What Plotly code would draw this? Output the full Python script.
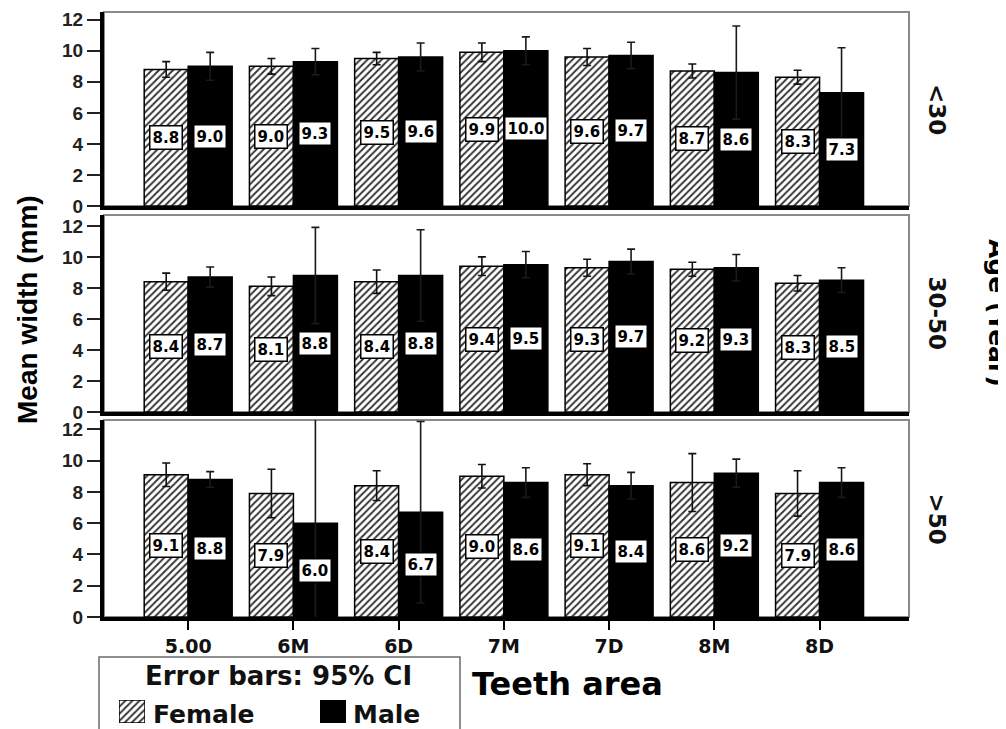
import plotly.graph_objects as go

# ---------------- data ----------------
categories = ["5.00", "6M", "6D", "7M", "7D", "8M", "8D"]
age_groups = ["<30", "30-50", ">50"]

female_lt30 = [8.8, 9.0, 9.5, 9.9, 9.6, 8.7, 8.3]
male_lt30 = [9.0, 9.3, 9.6, 10.0, 9.7, 8.6, 7.3]
female_30_50 = [8.4, 8.1, 8.4, 9.4, 9.3, 9.2, 8.3]
male_30_50 = [8.7, 8.8, 8.8, 9.5, 9.7, 9.3, 8.5]
female_gt50 = [9.1, 7.9, 8.4, 9.0, 9.1, 8.6, 7.9]
male_gt50 = [8.8, 6.0, 6.7, 8.6, 8.4, 9.2, 8.6]

# 95% CI half-widths
female_lt30_ci = [0.5, 0.5, 0.4, 0.6, 0.55, 0.45, 0.45]
male_lt30_ci = [0.9, 0.85, 0.9, 0.9, 0.85, 3.0, 2.9]
female_30_50_ci = [0.55, 0.6, 0.75, 0.6, 0.55, 0.45, 0.5]
male_30_50_ci = [0.65, 3.1, 2.95, 0.85, 0.8, 0.85, 0.8]
female_gt50_ci = [0.75, 1.55, 0.95, 0.75, 0.7, 1.85, 1.45]
male_gt50_ci = [0.5, 7.5, 5.8, 0.95, 0.85, 0.9, 0.95]

y_ticks = [0, 2, 4, 6, 8, 10, 12]

# ---------------- layout helpers ----------------
W, H = 1006, 729
OFF = 8  # page body margin shifts the figure by 8 px
def px(p):
    return (p - OFF) / W
def py(p):
    return 1 - (p - OFF) / H

BOLD = "DejaVu Sans"
FEMALE_MARKER = dict(color="white",
                     pattern=dict(shape="/", fgcolor="#333333", bgcolor="white", size=5, solidity=0.38),
                     line=dict(color="black", width=1.5))
MALE_MARKER = dict(color="black", line=dict(color="black", width=1.5))

panels = [
    (female_lt30, female_lt30_ci, male_lt30, male_lt30_ci, age_groups[0], [0, 12.5], (12, 206)),
    (female_30_50, female_30_50_ci, male_30_50, male_30_50_ci, age_groups[1], [0, 12.7], (215, 412)),
    (female_gt50, female_gt50_ci, male_gt50, male_gt50_ci, age_groups[2], [0, 12.6], (420, 617)),
]

fig = go.Figure()
layout = dict(
    width=W, height=H, margin=dict(l=0, r=0, t=0, b=0),
    paper_bgcolor="white", plot_bgcolor="white",
    barmode="group", bargap=0.164, bargroupgap=0,
    showlegend=False, template="none",
)
annotations = []
shapes = []
half = (1 - 0.164) / 4  # offset of each bar center from category center

for k, (fv, fci, mv, mci, label, yr, (top, bottom)) in enumerate(panels, start=1):
    xa = "x" if k == 1 else f"x{k}"
    ya = "y" if k == 1 else f"y{k}"
    fig.add_trace(go.Bar(
        x=categories, y=fv, name="Female", offsetgroup="F", marker=FEMALE_MARKER,
        error_y=dict(type="data", array=fci, visible=True, color="#111111", thickness=1.6, width=4),
        xaxis=xa, yaxis=ya))
    fig.add_trace(go.Bar(
        x=categories, y=mv, name="Male", offsetgroup="M", marker=MALE_MARKER,
        error_y=dict(type="data", array=mci, visible=True, color="#1a1a1a", thickness=1.6, width=4),
        xaxis=xa, yaxis=ya))
    is_bottom = (k == 3)
    layout["xaxis" if k == 1 else f"xaxis{k}"] = dict(
        domain=[px(104), px(909)], anchor=ya, type="category",
        categoryorder="array", categoryarray=categories,
        range=[-0.8, 6.85], showgrid=False, zeroline=False,
        showline=True, linewidth=4, linecolor="black", automargin=False,
        ticks="outside" if is_bottom else "", ticklen=9, tickwidth=2, tickcolor="black",
        showticklabels=is_bottom,
        tickfont=dict(family=BOLD, size=19, color="#111111", weight="bold"),
    )
    layout["yaxis" if k == 1 else f"yaxis{k}"] = dict(
        domain=[py(bottom), py(top)], anchor=xa, range=yr,
        tickvals=y_ticks, showgrid=False, zeroline=False,
        showline=True, linewidth=4, linecolor="black", automargin=False,
        ticks="outside", ticklen=13, tickwidth=2, tickcolor="#222222",
        tickfont=dict(family="Liberation Sans, Arial", size=19, color="#222222", weight="bold"),
    )
    # panel frame (thin gray top/right border)
    shapes.append(dict(type="rect", xref=f"{xa} domain", yref=f"{ya} domain",
                       x0=0, x1=1, y0=0, y1=1, line=dict(color="#8a8a8a", width=2), layer="below"))
    # value labels
    for i, (f, m) in enumerate(zip(fv, mv)):
        for val, off in ((f, -half), (m, half)):
            annotations.append(dict(
                x=i + off, y=val / 2, xref=xa, yref=ya, text=f"{val:.1f}", showarrow=False,
                bgcolor="white", bordercolor="black", borderwidth=1.5, borderpad=2,
                font=dict(family=BOLD, size=15, color="black", weight="bold")))
    # age-group label on right
    annotations.append(dict(
        x=px(937), y=py((top + bottom) / 2), xref="paper", yref="paper", text=label,
        textangle=90, showarrow=False, xanchor="center", yanchor="middle",
        font=dict(family=BOLD, size=23, color="#111111", weight="bold")))

# axis titles
annotations.append(dict(
    x=px(27), y=py(310), xref="paper", yref="paper", text="Mean width (mm)", textangle=-90,
    showarrow=False, xanchor="center", yanchor="middle",
    font=dict(family="Liberation Sans, Arial", size=28, color="black", weight="bold")))
annotations.append(dict(
    x=px(998), y=py(313), xref="paper", yref="paper", text="Age (Year)", textangle=90,
    showarrow=False, xanchor="center", yanchor="middle",
    font=dict(family=BOLD, size=25, color="black", weight="bold")))
annotations.append(dict(
    x=px(470), y=py(684), xref="paper", yref="paper", text="Teeth area",
    showarrow=False, xanchor="left", yanchor="middle",
    font=dict(family=BOLD, size=32, color="black", weight="bold")))

# legend box
shapes.append(dict(type="rect", xref="paper", yref="paper",
                   x0=px(99), x1=px(460), y0=py(750), y1=py(657),
                   line=dict(color="#6a6a6a", width=1.5), fillcolor="white", layer="below"))
annotations.append(dict(
    x=px(278), y=py(676), xref="paper", yref="paper", text="Error bars: 95% CI",
    showarrow=False, xanchor="center", yanchor="middle",
    font=dict(family=BOLD, size=26, color="#111111", weight="bold")))
annotations.append(dict(
    x=px(151), y=py(714), xref="paper", yref="paper", text="Female",
    showarrow=False, xanchor="left", yanchor="middle",
    font=dict(family=BOLD, size=25, color="#111111", weight="bold")))
annotations.append(dict(
    x=px(351), y=py(714), xref="paper", yref="paper", text="Male",
    showarrow=False, xanchor="left", yanchor="middle",
    font=dict(family=BOLD, size=25, color="#111111", weight="bold")))

# legend swatches as tiny bar subplots
for n, (x0, marker, name) in enumerate(((119, FEMALE_MARKER, "Female"), (320, MALE_MARKER, "Male")), start=4):
    fig.add_trace(go.Bar(x=[0], y=[1], width=[1], marker=marker, name=name,
                         xaxis=f"x{n}", yaxis=f"y{n}", hoverinfo="skip"))
    layout[f"xaxis{n}"] = dict(domain=[px(x0), px(x0 + 26)], anchor=f"y{n}", range=[-0.5, 0.5],
                               visible=False, fixedrange=True)
    layout[f"yaxis{n}"] = dict(domain=[py(723), py(700)], anchor=f"x{n}", range=[0, 1],
                               visible=False, fixedrange=True)

layout["annotations"] = annotations
layout["shapes"] = shapes
fig.update_layout(**layout)
fig.write_html("out.html")
